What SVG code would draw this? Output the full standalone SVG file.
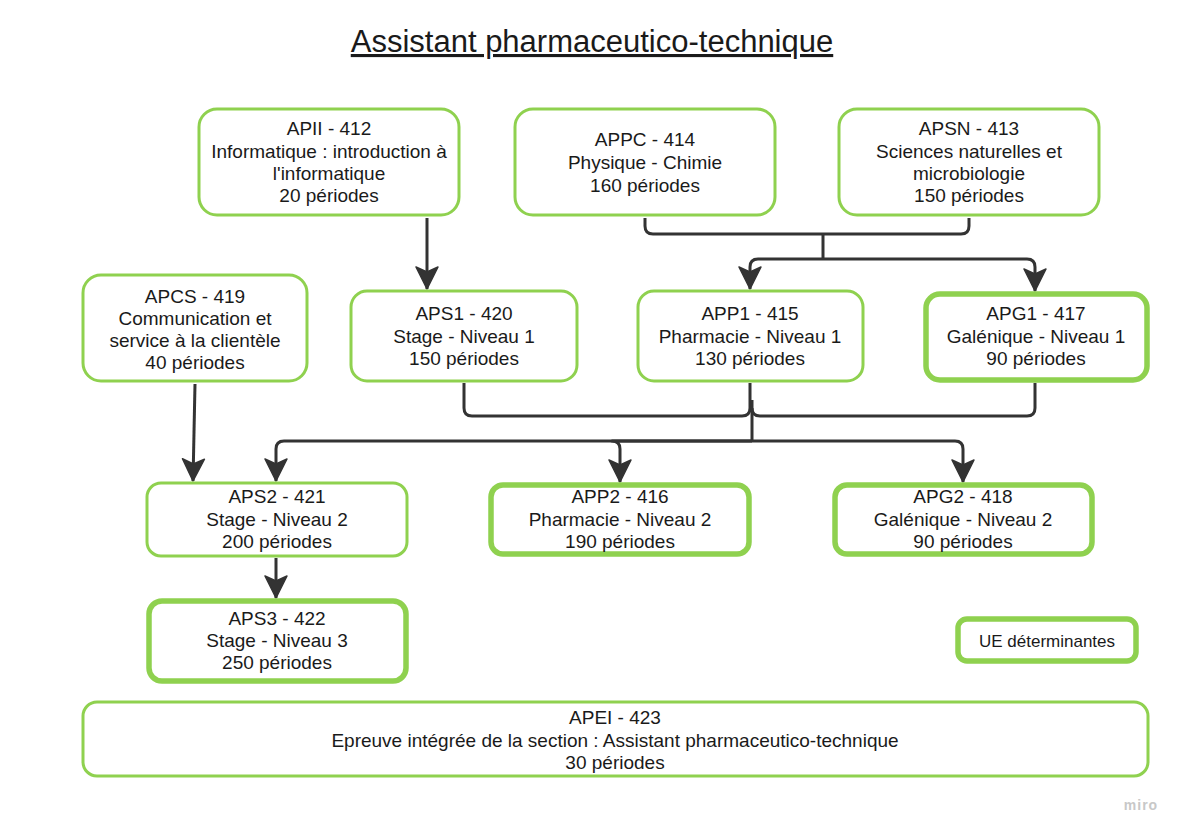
<svg xmlns="http://www.w3.org/2000/svg" width="1192" height="838" viewBox="0 0 1192 838">
<defs>
<style>
.n{fill:#fff;stroke:#8fd14f;stroke-width:3}
.t{stroke-width:5.5}
text{font-family:"Liberation Sans",Arial,sans-serif;font-size:19px;fill:#1a1a1a;text-anchor:middle}
.c{fill:none;stroke:#333;stroke-width:3;stroke-linejoin:round}
.a{marker-end:url(#ah)}
</style>
<marker id="ah" viewBox="-2 -14 26 28" refX="22" refY="0" markerWidth="26" markerHeight="28" markerUnits="userSpaceOnUse" orient="auto">
<path d="M0,-11 L22,0 L0,11 L5,0 Z" fill="#333" stroke="#333" stroke-width="1.5" stroke-linejoin="round"/>
</marker>
</defs>
<rect width="1192" height="838" fill="#fff"/>
<g id="title">
<text x="592" y="52" style="font-size:31px;text-decoration:underline">Assistant pharmaceutico-technique</text>
</g>
<g id="connectors">
<path class="c a" d="M427,218 V289"/>
<path class="c" d="M645,218 V226 Q645,234 653,234 H961 Q969,234 969,226 V218"/>
<path class="c" d="M823,234 V259"/>
<path class="c a" d="M823,259 H758 Q750,259 750,267 V289"/>
<path class="c a" d="M823,259 H1027 Q1035,259 1035,267 V291"/>
<path class="c" d="M464,383 V408 Q464,416 472,416 H742 Q750,416 750,408 V383"/>
<path class="c" d="M1035,383 V408 Q1035,416 1027,416 H760 Q752,416 752,408"/>
<path class="c" d="M752,400 V441"/>
<path class="c a" d="M752,441 H284 Q276,441 276,449 V481"/>
<path class="c a" d="M752,441 H612 Q620,441 620,449 V482"/>
<path class="c a" d="M752,441 H955 Q963,441 963,449 V482"/>
<path class="c a" d="M195,384 L193,481"/>
<path class="c a" d="M276,558 V598"/>
</g>
<g id="APII"><rect class="n" x="199" y="109" width="260" height="106" rx="18"/>
<text x="329" y="135">APII - 412</text><text x="329" y="158">Informatique : introduction à</text><text x="329" y="180">l'informatique</text><text x="329" y="202">20 périodes</text></g>
<g id="APPC"><rect class="n" x="515" y="109" width="260" height="106" rx="18"/>
<text x="645" y="146">APPC - 414</text><text x="645" y="169">Physique - Chimie</text><text x="645" y="192">160 périodes</text></g>
<g id="APSN"><rect class="n" x="839" y="109" width="260" height="106" rx="18"/>
<text x="969" y="135">APSN - 413</text><text x="969" y="158">Sciences naturelles et</text><text x="969" y="180">microbiologie</text><text x="969" y="202">150 périodes</text></g>
<g id="APCS"><rect class="n" x="83" y="275" width="224" height="106" rx="18"/>
<text x="195" y="303">APCS - 419</text><text x="195" y="325">Communication et</text><text x="195" y="347">service à la clientèle</text><text x="195" y="369">40 périodes</text></g>
<g id="APS1"><rect class="n" x="351" y="291" width="226" height="90" rx="16"/>
<text x="464" y="320">APS1 - 420</text><text x="464" y="343">Stage - Niveau 1</text><text x="464" y="365">150 périodes</text></g>
<g id="APP1"><rect class="n" x="638" y="291" width="225" height="90" rx="16"/>
<text x="750" y="320">APP1 - 415</text><text x="750" y="343">Pharmacie - Niveau 1</text><text x="750" y="365">130 périodes</text></g>
<g id="APG1"><rect class="n t" x="926" y="294" width="221" height="86" rx="14"/>
<text x="1036" y="320">APG1 - 417</text><text x="1036" y="343">Galénique - Niveau 1</text><text x="1036" y="365">90 périodes</text></g>
<g id="APS2"><rect class="n" x="147" y="483" width="260" height="73" rx="14"/>
<text x="277" y="503">APS2 - 421</text><text x="277" y="526">Stage - Niveau 2</text><text x="277" y="548">200 périodes</text></g>
<g id="APP2"><rect class="n t" x="491" y="485" width="258" height="69" rx="12"/>
<text x="620" y="503">APP2 - 416</text><text x="620" y="526">Pharmacie - Niveau 2</text><text x="620" y="548">190 périodes</text></g>
<g id="APG2"><rect class="n t" x="835" y="485" width="257" height="69" rx="12"/>
<text x="963" y="503">APG2 - 418</text><text x="963" y="526">Galénique - Niveau 2</text><text x="963" y="548">90 périodes</text></g>
<g id="APS3"><rect class="n t" x="149" y="601" width="257" height="80" rx="13"/>
<text x="277" y="625">APS3 - 422</text><text x="277" y="647">Stage - Niveau 3</text><text x="277" y="669">250 périodes</text></g>
<g id="legend"><rect class="n t" x="958" y="619" width="178" height="42" rx="9"/>
<text x="1047" y="647" style="font-size:17px">UE déterminantes</text></g>
<g id="APEI"><rect class="n" x="83" y="702" width="1065" height="74" rx="14"/>
<text x="615" y="724">APEI - 423</text><text x="615" y="747">Epreuve intégrée de la section : Assistant pharmaceutico-technique</text><text x="615" y="769">30 périodes</text></g>
<text x="1141" y="810" style="font-size:14px;fill:#c8c8c8;font-weight:bold;letter-spacing:1px">miro</text>
</svg>
